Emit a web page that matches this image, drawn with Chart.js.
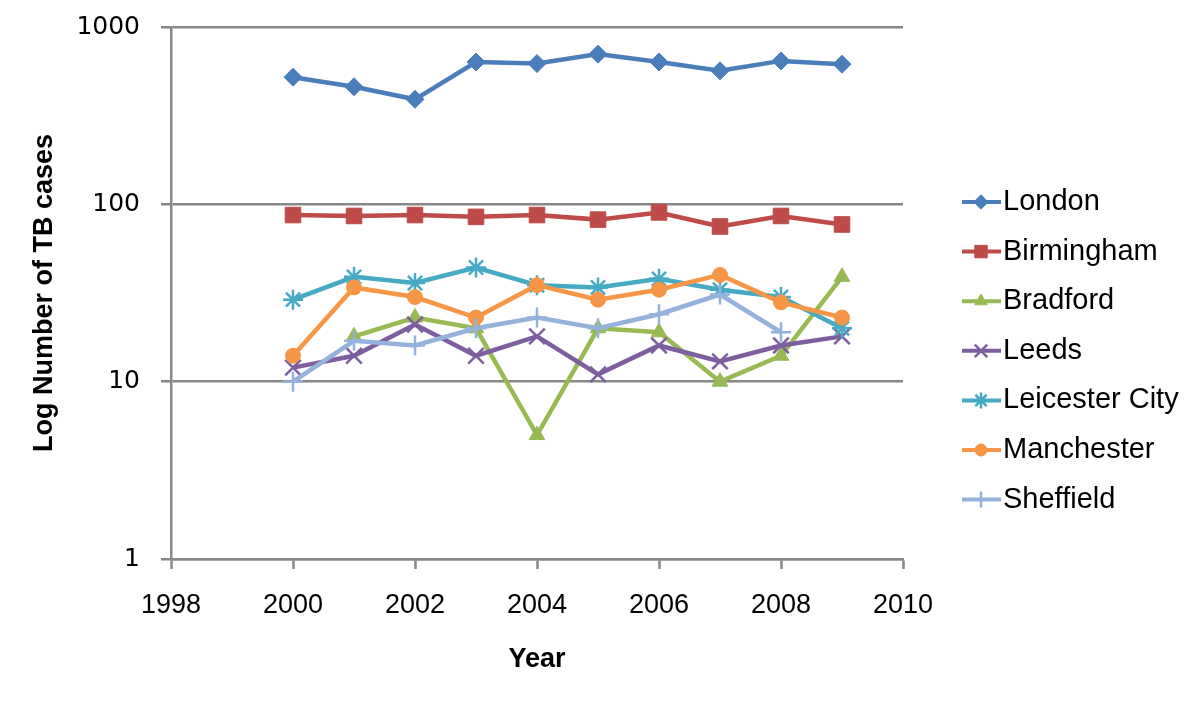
<!DOCTYPE html>
<html>
<head>
<meta charset="utf-8">
<script src="https://cdn.jsdelivr.net/npm/chart.js@4/dist/chart.umd.min.js"></script>
<style>
  body { margin: 0; background: #fff; }
  canvas { display: block; }
</style>
</head>
<body>
<canvas id="chart" width="1200" height="704"></canvas>
<script>
// years on the x axis
var years = [2000, 2001, 2002, 2003, 2004, 2005, 2006, 2007, 2008, 2009];

// TB cases per city
var london     = [521, 460, 391, 635, 622, 703, 635, 566, 644, 617];
var birmingham = [87, 86, 87, 85, 87, 82, 90, 75, 86, 77];
var bradford   = [null, 18, 23, 20, 5, 20, 19, 10, 14, 39];
var leeds      = [12, 14, 21, 14, 18, 11, 16, 13, 16, 18];
var leicester  = [29, 39, 36, 44, 35, 34, 38, 33, 30, 20];
var manchester = [14, 34, 30, 23, 35, 29, 33, 40, 28, 23];
var sheffield  = [10, 17, 16, 20, 23, 20, 24, 31, 19, null];

var cityNames = ['London', 'Birmingham', 'Bradford', 'Leeds', 'Leicester City', 'Manchester', 'Sheffield'];
var yTickValues = [1, 10, 100, 1000];

var GRID = '#888888';

function points(values) {
    return years.map(function (y, i) { return { x: y, y: values[i] }; });
}

function series(label, values, color, style, radius, bw) {
    return {
        label: label,
        data: points(values),
        borderColor: color,
        backgroundColor: color,
        borderWidth: 4.5,
        pointStyle: style,
        pointRadius: radius,
        pointBorderWidth: bw,
        pointBackgroundColor: color,
        pointBorderColor: color,
        tension: 0
    };
}

var datasets = [
    series(cityNames[0], london, '#4a7ebb', 'rectRot', 9, 1),
    series(cityNames[1], birmingham, '#be4b48', 'rect', 11, 1),
    series(cityNames[2], bradford, '#98b954', 'triangle', 9, 1),
    series(cityNames[3], leeds, '#7d5fa0', 'crossRot', 11, 2.5),
    series(cityNames[4], leicester, '#46aac5', 'star', 10, 2.5),
    series(cityNames[5], manchester, '#f79646', 'circle', 7.5, 1),
    series(cityNames[6], sheffield, '#94b2dc', 'cross', 10, 2.5)
];
// later series on top, like the original
datasets.forEach(function (d, i) { d.order = datasets.length - 1 - i; });

// legend at the right with line + marker
var sideLegend = {
    id: 'sideLegend',
    afterDraw: function (chart) {
        var ctx = chart.ctx;
        ctx.save();
        chart.data.datasets.forEach(function (ds, i) {
            var y = 202 + i * 49.6;
            ctx.strokeStyle = ds.borderColor;
            ctx.fillStyle = ds.borderColor;
            ctx.lineWidth = 4;
            ctx.beginPath();
            ctx.moveTo(962, y);
            ctx.lineTo(1001, y);
            ctx.stroke();
            ctx.lineWidth = ds.pointBorderWidth;
            Chart.helpers.drawPoint(ctx, {
                pointStyle: ds.pointStyle,
                radius: ds.pointRadius * 0.8,
                rotation: 0,
                borderWidth: ds.pointBorderWidth
            }, 981, y);
            ctx.fillStyle = '#000';
            ctx.font = '29px "Liberation Sans", Arial, sans-serif';
            ctx.textBaseline = 'middle';
            ctx.textAlign = 'left';
            ctx.fillText(ds.label, 1003, y);
        });
        ctx.restore();
    }
};

var chart = new Chart(document.getElementById('chart').getContext('2d'), {
    type: 'line',
    data: { datasets: datasets },
    plugins: [sideLegend],
    options: {
        responsive: false,
        animation: false,
        layout: { padding: { left: 0, right: 297, top: 27, bottom: 0 } },
        plugins: {
            legend: { display: false },
            tooltip: { enabled: false }
        },
        scales: {
            x: {
                type: 'linear',
                min: 1998,
                max: 2010,
                afterFit: function (scale) { scale.height = 145; },
                ticks: {
                    stepSize: 2,
                    color: '#000',
                    padding: 20,
                    font: { family: '"Liberation Sans", Arial, sans-serif', size: 27 },
                    callback: function (v) { return String(v); }
                },
                grid: {
                    drawOnChartArea: false,
                    drawTicks: true,
                    tickLength: 10,
                    tickColor: GRID,
                    tickWidth: 2.5
                },
                border: { display: true, color: GRID, width: 2.5 },
                title: {
                    display: true,
                    text: 'Year',
                    color: '#000',
                    font: { family: '"Liberation Sans", Arial, sans-serif', size: 27, weight: 'bold' },
                    padding: { top: 0, bottom: 28 }
                }
            },
            y: {
                type: 'logarithmic',
                min: 1,
                max: 1000,
                afterFit: function (scale) { scale.width = 171; },
                afterBuildTicks: function (scale) {
                    scale.ticks = yTickValues.map(function (v) { return { value: v }; });
                },
                ticks: {
                    color: '#000',
                    padding: 21,
                    font: { family: '"DejaVu Sans", Verdana, sans-serif', size: 25, lineHeight: 0.4 },
                    callback: function (v) { return String(v); }
                },
                grid: {
                    color: GRID,
                    lineWidth: 2.5,
                    drawTicks: true,
                    tickLength: 10,
                    tickColor: GRID
                },
                border: { display: true, color: GRID, width: 2.5 },
                title: {
                    display: true,
                    text: 'Log Number of TB cases',
                    color: '#000',
                    font: { family: '"Liberation Sans", Arial, sans-serif', size: 27, weight: 'bold' },
                    padding: { top: 28, bottom: 0 }
                }
            }
        }
    }
});
</script>
</body>
</html>
